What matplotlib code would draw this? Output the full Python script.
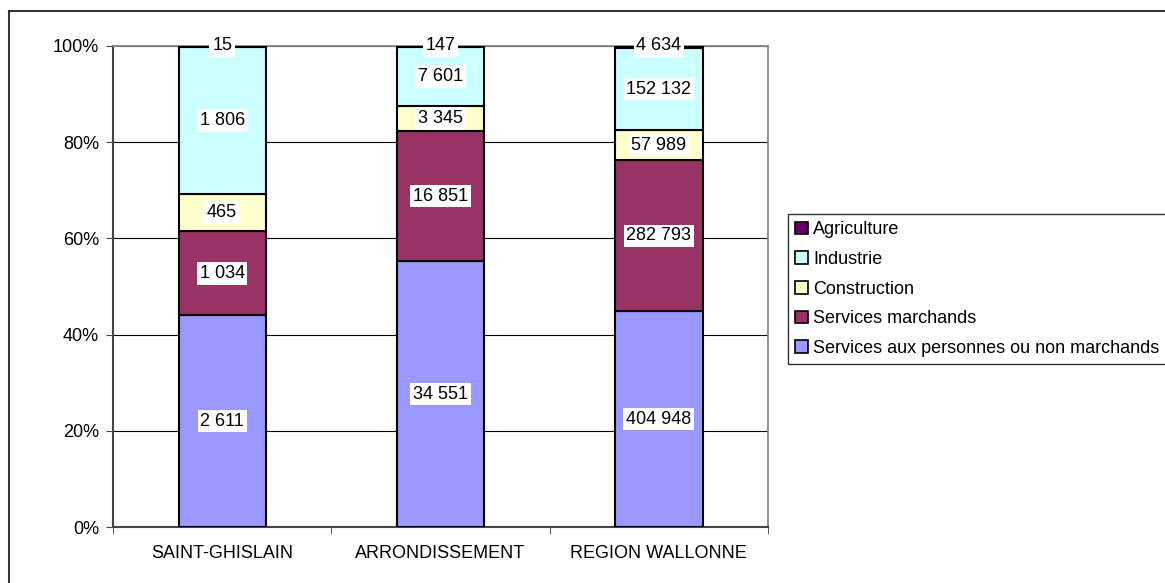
import matplotlib
matplotlib.use("Agg")
import matplotlib.pyplot as plt
import numpy as np
from matplotlib.patches import Patch
from matplotlib.lines import Line2D

plt.rcParams['font.family'] = ['Liberation Sans', 'DejaVu Sans']

categories = ["SAINT-GHISLAIN", "ARRONDISSEMENT", "REGION WALLONNE"]
series_names = ["Services aux personnes ou non marchands", "Services marchands",
                "Construction", "Industrie", "Agriculture"]
services_personnes = [2611, 34551, 404948]
services_marchands = [1034, 16851, 282793]
construction = [465, 3345, 57989]
industrie = [1806, 7601, 152132]
agriculture = [15, 147, 4634]
colors = ["#9999FF", "#993366", "#FFFFCC", "#CCFFFF", "#660066"]
yticks = [0, 20, 40, 60, 80, 100]

series = [services_personnes, services_marchands, construction, industrie, agriculture]
data = np.array(series, dtype=float)
totals = data.sum(axis=0)
pct = data / totals * 100

FS = 13
W, H = 1165, 583
fig = plt.figure(figsize=(W / 100, H / 100), dpi=100)
ax = fig.add_axes([113 / W, 1 - 527 / H, (768 - 113) / W, (527 - 46) / H])

x = np.arange(len(categories))
bottom = np.zeros(len(categories))
handles = []
for i, (name, col) in enumerate(zip(series_names, colors)):
    ax.bar(x, pct[i], bottom=bottom, width=0.40, color=col, edgecolor='black',
           linewidth=1.5, zorder=3)
    for j in range(len(categories)):
        yc = bottom[j] + pct[i][j] / 2
        if i == len(series) - 1:
            yc = 100
        lbl = f"{int(data[i][j]):,}".replace(",", " ")
        ax.text(x[j], yc, lbl, ha='center', va='center', fontsize=FS, zorder=5,
                bbox=dict(facecolor='white', edgecolor='none', pad=2))
    bottom += pct[i]
    handles.append(Patch(facecolor=col, edgecolor='black', linewidth=1.2, label=name))

ax.set_xlim(-0.5, len(categories) - 0.5)
ax.set_ylim(0, 100)
ax.set_yticks(yticks)
ax.set_yticklabels([f"{v}%" for v in yticks], fontsize=FS)
ax.set_xticks(x)
ax.set_xticklabels(categories, fontsize=FS)
ax.set_xticks(np.arange(len(categories) + 1) - 0.5, minor=True)
ax.tick_params(axis='x', which='major', length=0, pad=13)
ax.tick_params(axis='x', which='minor', length=5, color='#444444', direction='out')
ax.tick_params(axis='y', length=5, color='#444444', direction='out', pad=5)
ax.grid(axis='y', color='black', linewidth=0.8, zorder=0)
ax.set_axisbelow(True)
for s in ['left', 'bottom']:
    ax.spines[s].set_color('#444444')
    ax.spines[s].set_linewidth(1.5)
for s in ['top', 'right']:
    ax.spines[s].set_color('#888888')
    ax.spines[s].set_linewidth(1.3)

leg = fig.legend(handles=handles[::-1], loc='upper left',
                 bbox_to_anchor=(788 / W, 1 - 214 / H), fontsize=FS,
                 frameon=True, fancybox=False, handlelength=0.7, handleheight=0.7,
                 handletextpad=0.3, labelspacing=0.7, borderpad=0.4,
                 borderaxespad=0)
leg.get_frame().set_edgecolor('black')
leg.get_frame().set_linewidth(1.0)

# outer chart border (extends beyond the image on right/bottom)
fig.add_artist(Line2D([9 / W, 9 / W], [1 - 11 / H, -0.05], color='#333333', linewidth=1.5,
                      transform=fig.transFigure))
fig.add_artist(Line2D([9 / W, 1.05], [1 - 11 / H, 1 - 11 / H], color='#333333', linewidth=1.5,
                      transform=fig.transFigure))

fig.savefig("out.png", dpi=100)
